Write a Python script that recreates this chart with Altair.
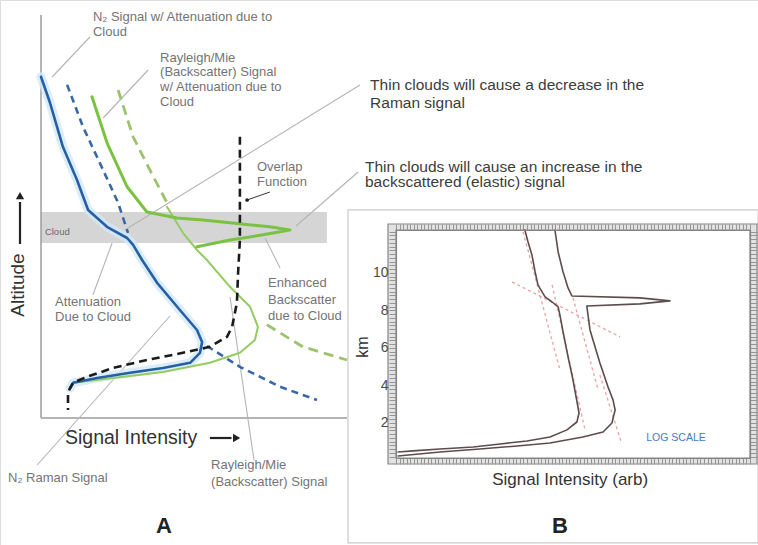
import altair as alt
import pandas as pd

FONT = "Liberation Sans"

# ---------------- Panel A: schematic lidar returns (arbitrary units) ----------------
# N2 Raman signal, attenuated by the cloud (solid blue)
n2_attn_x = [0.0, 3.0, 7.3, 12.0, 15.7, 22.0, 28.7, 30.7, 33.7, 38.7, 46.3, 52.0, 53.7, 53.0, 49.7, 40.7, 29.7, 18.7, 10.7, 9.7]
n2_attn_y = [85.3, 78.8, 67.8, 59.5, 52.0, 47.8, 45.0, 43.3, 39.5, 33.8, 27.0, 22.0, 19.0, 16.3, 13.8, 12.5, 11.3, 10.0, 8.8, 7.5]
# N2 signal without cloud (dashed blue, above the cloud)
n2_clear_x = [8.7, 14.0, 20.7, 25.7, 29.0]
n2_clear_y = [83.3, 72.8, 62.0, 53.8, 46.3]
# N2 signal without overlap (dashed blue, near field)
n2_full_x = [55.3, 66.3, 79.7, 92.0]
n2_full_y = [18.0, 12.8, 7.8, 4.5]

# Rayleigh/Mie backscatter with cloud attenuation and enhancement (thick green)
bs_attn_x = [17.0, 22.0, 28.7, 35.3, 45.3, 54.0, 63.0, 76.3, 83.0, 74.0, 63.0, 52.0]
bs_attn_y = [80.3, 68.8, 57.8, 51.5, 50.0, 49.5, 48.8, 47.8, 47.0, 45.8, 44.5, 42.8]
# Rayleigh/Mie backscatter, clear sky (thin green)
bs_clear_x = [42.0, 47.3, 52.0, 55.3, 63.0, 69.7, 72.3, 71.3, 66.3, 56.3, 40.7, 24.0, 10.7]
bs_clear_y = [52.8, 46.3, 42.0, 39.5, 32.8, 27.8, 22.8, 19.5, 16.3, 13.8, 11.5, 10.0, 8.8]
# backscatter without cloud (dashed green, above the cloud)
bs_up_x = [25.7, 30.7, 36.3, 42.0]
bs_up_y = [82.0, 70.3, 62.0, 53.8]
# backscatter without overlap (dashed green, near field)
bs_full_x = [75.3, 87.3, 102.0]
bs_full_y = [23.3, 17.8, 14.5]

# overlap function (black dashed)
ovl_x = [66.3, 66.3, 65.7, 65.3, 63.7, 62.0, 56.3, 47.3, 35.3, 24.0, 15.3, 10.7, 9.0, 9.0]
ovl_y = [70.3, 44.5, 36.3, 28.8, 22.8, 20.3, 17.8, 16.3, 14.5, 12.5, 10.3, 8.8, 6.5, 2.0]

# cloud layer extent
cloud_x = [0.0, 95.3]
cloud_y = [43.75, 51.5]

# ---------------- Panel B: measured profiles (log intensity vs km) ----------------
raman_x = [36.4, 37.3, 38.4, 39.3, 40.1, 42.1, 44.1, 45.8, 46.3, 47.2, 48.6, 50.0, 51.4, 51.7, 51.1, 48.3, 43.5, 37.0, 29.4, 21.8, 12.4, 4.8, 0.6]
raman_km = [12.29, 11.65, 10.96, 10.05, 9.36, 8.72, 8.45, 8.19, 7.76, 6.85, 5.52, 4.29, 2.85, 2.53, 2.05, 1.63, 1.25, 1.04, 0.88, 0.72, 0.61, 0.51, 0.45]
elastic_x = [44.9, 45.8, 47.2, 48.6, 49.7, 68.9, 77.4, 68.9, 53.9, 54.8, 57.6, 59.9, 61.3, 61.9, 61.0, 58.5, 52.8, 43.5, 34.2, 23.7, 12.4, 0.6]
elastic_km = [12.29, 11.12, 10.05, 9.20, 8.77, 8.67, 8.51, 8.35, 8.24, 6.96, 5.20, 3.92, 3.23, 2.69, 2.00, 1.52, 1.25, 0.93, 0.77, 0.61, 0.45, 0.24]
# fitted slopes (dotted red)
fits = {
    "raman_above": ([35.9, 46.3], [12.19, 4.83]),
    "raman_below": ([44.1, 53.4], [9.36, 1.63]),
    "elastic_above": ([50.0, 57.1], [8.67, 3.76]),
    "elastic_below": ([57.6, 63.6], [4.56, 0.99]),
    "transmission": ([32.8, 63.3], [9.52, 6.59]),
}
km_tick_labels = [2, 4, 6, 8, 10]

# ---------------- scales ----------------
AX = alt.Scale(domain=[0, 102], range=[41, 347], nice=False, zero=False)
AY = alt.Scale(domain=[0, 100.75], range=[418, 15], nice=False, zero=False)
BX = alt.Scale(domain=[0, 100], range=[396, 750], nice=False, zero=False)
BY = alt.Scale(domain=[0.13, 12.29], range=[458, 230], nice=False, zero=False)


def curve(xs, ys):
    return pd.DataFrame({"x": xs, "y": ys, "i": list(range(len(xs)))})


def line(xs, ys, sx, sy, color, width, dash=None, opacity=1.0, cap="round"):
    kw = dict(color=color, strokeWidth=width, opacity=opacity, strokeCap=cap, strokeJoin="round")
    if dash:
        kw["strokeDash"] = dash
    return alt.Chart(curve(xs, ys)).mark_line(**kw).encode(
        x=alt.X("x:Q", scale=sx, axis=None),
        y=alt.Y("y:Q", scale=sy, axis=None),
        order="i:Q",
    )


def box(x1, x2, y1, y2, sx, sy, xax=None, yax=None, **style):
    df = pd.DataFrame({"x": [x1], "x2": [x2], "y": [y1], "y2": [y2]})
    return alt.Chart(df).mark_rect(**style).encode(
        x=alt.X("x:Q", scale=sx, axis=xax), x2="x2:Q",
        y=alt.Y("y:Q", scale=sy, axis=yax), y2="y2:Q",
    )


def rules(segs, sx, sy, color, width):
    df = pd.DataFrame(segs, columns=["x", "y", "x2", "y2"])
    return alt.Chart(df).mark_rule(color=color, strokeWidth=width).encode(
        x=alt.X("x:Q", scale=sx, axis=None), x2="x2:Q",
        y=alt.Y("y:Q", scale=sy, axis=None), y2="y2:Q",
    )


def texts(rows, sx, sy, size, color, align="left", baseline="middle", weight="normal", angle=0):
    df = pd.DataFrame(rows, columns=["x", "y", "t"])
    kw = dict(font=FONT, fontSize=size, color=color, align=align, baseline=baseline, fontWeight=weight)
    if angle:
        kw["angle"] = angle
    return alt.Chart(df).mark_text(**kw).encode(
        x=alt.X("x:Q", scale=sx, axis=None),
        y=alt.Y("y:Q", scale=sy, axis=None),
        text="t:N",
    )


# ---------------- Panel A layers ----------------
BLUE = "#2460a3"
GREEN = "#7cc242"
GREEN_LIGHT = "#95cc62"
GREEN_DASH = "#9cc36e"
GRAY_TXT = "#747474"
LEADER = "#b4b4b4"

cloud = box(cloud_x[0], cloud_x[1], cloud_y[0], cloud_y[1], AX, AY, color="#d5d5d5")
axes_a = rules([(0, 0, 0, 100.75), (0, 0, 102, 0)], AX, AY, "#9c9c9c", 1.5)

leaders = [
    (16.3, 95.25, 3.7, 85.25),
    (35.7, 87.0, 20.7, 75.0),
    (106.3, 83.25, 29.0, 47.5),
    (105.7, 61.5, 85.0, 48.0),
    (17.3, 30.75, 23.7, 43.75),
    (74.7, 45.0, 79.7, 37.5),
    (-1.3, -11.75, 43.0, 25.5),
    (71.0, -10.5, 63.0, 30.25),
]
small_labels = [
    (17.3, 100.25, "N₂ Signal w/ Attenuation due to"),
    (17.3, 96.5, "Cloud"),
    (39.7, 90.0, "Rayleigh/Mie"),
    (39.7, 86.4, "(Backscatter) Signal"),
    (39.7, 82.75, "w/ Attenuation due to"),
    (39.7, 79.1, "Cloud"),
    (72.0, 62.75, "Overlap"),
    (72.0, 59.0, "Function"),
    (4.7, 29.0, "Attenuation"),
    (4.7, 25.25, "Due to Cloud"),
    (75.7, 33.75, "Enhanced"),
    (75.7, 29.6, "Backscatter"),
    (75.7, 25.5, "due to Cloud"),
    (-11.0, -15.0, "N₂ Raman Signal"),
    (56.7, -11.75, "Rayleigh/Mie"),
    (56.7, -16.0, "(Backscatter) Signal"),
]
notes = [
    (109.7, 83.25, "Thin clouds will cause a decrease in the"),
    (109.7, 78.75, "Raman signal"),
    (108.0, 62.75, "Thin clouds will cause an increase in the"),
    (108.0, 58.9, "backscattered (elastic) signal"),
]

overlap_ptr = pd.DataFrame({"x": [68.7], "y": [54.5]})
arrow_up = pd.DataFrame({"x": [-7.0], "y": [55.6]})
arrow_right = pd.DataFrame({"x": [65.2], "y": [-5.0]})

panel_a = alt.layer(
    cloud,
    axes_a,
    rules(leaders, AX, AY, LEADER, 1.1),
    line(n2_attn_x, n2_attn_y, AX, AY, "#d3e9f8", 9, opacity=0.8),
    line(n2_clear_x, n2_clear_y, AX, AY, "#3a67a6", 2.6, dash=[7, 5], cap="butt"),
    line(n2_full_x, n2_full_y, AX, AY, "#3a67a6", 2.6, dash=[7, 5], cap="butt"),
    line(bs_up_x, bs_up_y, AX, AY, GREEN_DASH, 2.8, dash=[10, 6], cap="butt"),
    line(bs_full_x, bs_full_y, AX, AY, GREEN_DASH, 2.8, dash=[10, 6], cap="butt"),
    line(bs_clear_x, bs_clear_y, AX, AY, GREEN_LIGHT, 2.0),
    line(bs_attn_x, bs_attn_y, AX, AY, GREEN, 3.0),
    line(n2_attn_x, n2_attn_y, AX, AY, BLUE, 2.6),
    line(ovl_x, ovl_y, AX, AY, "#1b1b1b", 2.6, dash=[8, 5], cap="butt"),
    rules([(76.3, 56.5, 68.7, 54.5)], AX, AY, "#333333", 1.0),
    alt.Chart(overlap_ptr).mark_circle(color="#222222", size=14, opacity=1).encode(
        x=alt.X("x:Q", scale=AX, axis=None), y=alt.Y("y:Q", scale=AY, axis=None)),
    texts([(1.3, 46.5, "Cloud")], AX, AY, 9.5, "#6a6a6a"),
    texts(small_labels, AX, AY, 13, GRAY_TXT),
    texts(notes, AX, AY, 15.5, "#3c3c3c"),
    # axis titles with arrows
    texts([(-7.7, 33.25, "Altitude")], AX, AY, 19, "#333333", align="center", angle=270),
    rules([(-7.0, 43.5, -7.0, 54.0)], AX, AY, "#222222", 2.2),
    alt.Chart(arrow_up).mark_point(shape="triangle-up", filled=True, size=70, color="#222222", opacity=1).encode(
        x=alt.X("x:Q", scale=AX, axis=None), y=alt.Y("y:Q", scale=AY, axis=None)),
    texts([(8.0, -5.0, "Signal Intensity")], AX, AY, 19.5, "#333333"),
    rules([(56.3, -5.0, 63.5, -5.0)], AX, AY, "#222222", 2.2),
    alt.Chart(arrow_right).mark_point(shape="triangle-right", filled=True, size=70, color="#222222", opacity=1).encode(
        x=alt.X("x:Q", scale=AX, axis=None), y=alt.Y("y:Q", scale=AY, axis=None)),
    texts([(41.0, -28.75, "A")], AX, AY, 22, "#222222", align="center", baseline="alphabetic", weight="bold"),
)

# ---------------- Panel B layers ----------------
FRAME = "#858585"
TICK = "#959595"
label_test = " || ".join(f"abs(datum.value - {v}) < 0.01" for v in km_tick_labels)
label_expr = f"({label_test}) ? '' + round(datum.value) : ''"
axis_common = dict(tickColor=TICK, tickWidth=1, domainColor=FRAME, domainWidth=1.2,
                   grid=False, title=None, zindex=1)
ax_left = alt.Axis(orient="left", offset=-396, tickCount=60, tickSize=7, labelExpr=label_expr,
                   labelFont=FONT, labelFontSize=14, labelColor="#4a4a4a", labelPadding=1,
                   labelOverlap=False, **axis_common)
ax_bottom = alt.Axis(orient="bottom", offset=-87, tickCount=100, tickSize=6, labels=False, **axis_common)
ax_top = alt.Axis(orient="top", offset=-230, tickCount=100, tickSize=6, labels=False, **axis_common)
ax_right = alt.Axis(orient="right", offset=-8, tickCount=60, tickSize=7, labels=False, **axis_common)

CURVE = "#5e4c4c"
FIT = "#eaa2a2"

panel_b_layers = [
    box(-13.56, 102.3, -4.4, 13.36, BX, BY, fill="white", stroke="#cacaca", strokeWidth=1.2),
    box(-2.26, 101.98, -0.19, 12.61, BX, BY, fill="#e2e2e2", stroke=FRAME, strokeWidth=1.2),
    box(0, 100, 0.13, 12.29, BX, BY, fill="white", stroke=FRAME, strokeWidth=1.2),
]
for fx, fy in fits.values():
    panel_b_layers.append(line(fx, fy, BX, BY, FIT, 1.3, dash=[3, 3], cap="butt"))
panel_b_layers += [
    line(raman_x, raman_km, BX, BY, CURVE, 1.6),
    line(elastic_x, elastic_km, BX, BY, CURVE, 1.6),
    texts([(79.1, 1.2, "LOG SCALE")], BX, BY, 10.5, "#3f7cc6", align="center"),
    texts([(-9.4, 6.05, "km")], BX, BY, 16, "#333333", align="center", angle=270),
    texts([(49.2, -1.04, "Signal Intensity (arb)")], BX, BY, 17, "#333333", align="center"),
    texts([(46.3, -3.87, "B")], BX, BY, 22, "#222222", align="center", baseline="alphabetic", weight="bold"),
]
panel_b = alt.layer(*panel_b_layers)

# frame axes of panel B, each pair on its own copy of the panel-B scales
frame_lb = box(0, 100, 0.13, 12.29, BX, BY, xax=ax_bottom, yax=ax_left, opacity=0)
frame_tr = box(0, 100, 0.13, 12.29, BX, BY, xax=ax_top, yax=ax_right, opacity=0)

chart = (
    alt.layer(panel_a, panel_b, frame_lb, frame_tr)
    .resolve_scale(x="independent", y="independent")
    .properties(width=758, height=545, autosize=alt.AutoSizeParams(type="none"), padding=0)
    .configure_view(stroke=None)
    .configure(background="white")
)

chart.save("out.html", embed_options={"renderer": "svg", "actions": False})
